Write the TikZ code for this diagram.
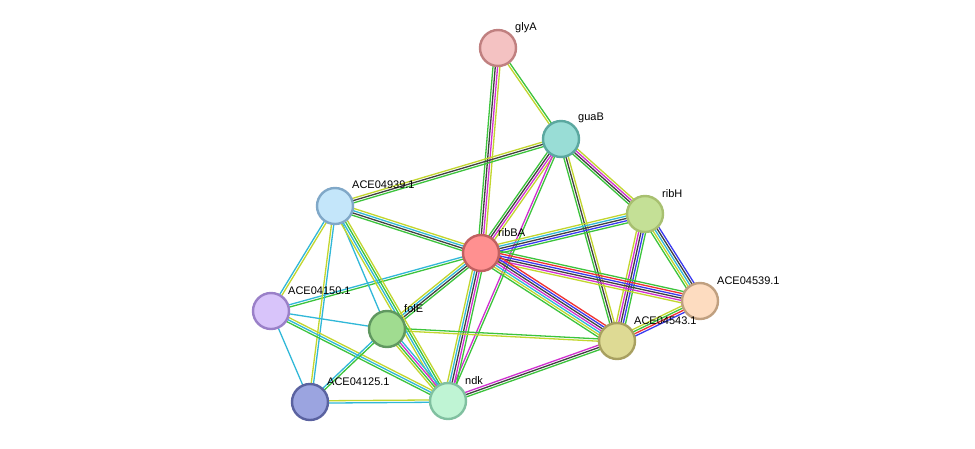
\documentclass[tikz,border=0pt]{standalone}
\usepackage{fontspec}
\setmainfont{Liberation Sans}
\usetikzlibrary{calc}
\definecolor{eg}{HTML}{3CC43C}
\definecolor{ey}{HTML}{C2D62E}
\definecolor{ek}{HTML}{404040}
\definecolor{eb}{HTML}{3A3AF0}
\definecolor{er}{HTML}{F03030}
\definecolor{em}{HTML}{D030D0}
\definecolor{ec}{HTML}{30B8D8}
\tikzset{prot/.style={circle,minimum size=36pt,inner sep=0pt,line width=2.4pt},
lab/.style={font=\fontsize{11}{13}\selectfont,anchor=south west,inner sep=1pt}}
\newcommand{\pedge}[4]{%
\foreach \c [count=\i] in {#4}{%
\pgfmathsetmacro{\off}{(\i-(#3+1)/2)*2.3}
\draw[\c,line width=1.3pt] ($(#1.center)!\off pt!90:(#2.center)$) -- ($(#2.center)!\off pt!-90:(#1.center)$);}}
\begin{document}
\begin{tikzpicture}[x=1pt,y=-1pt]
\useasboundingbox (0,0) rectangle (975,448);
\fill[white] (0,0) rectangle (975,448);
\coordinate (glyA) at (498,48);
\coordinate (guaB) at (561,139);
\coordinate (ribH) at (645,214);
\coordinate (A939) at (335,206);
\coordinate (ribBA) at (481,253);
\coordinate (A539) at (700,301);
\coordinate (A150) at (271,311);
\coordinate (folE) at (387,329);
\coordinate (A543) at (617,341);
\coordinate (A125) at (310,402);
\coordinate (ndk) at (448,401);
\pedge{glyA}{guaB}{2}{ey,eg}
\pedge{glyA}{ribBA}{4}{eg,ek,em,ey}
\pedge{guaB}{A939}{3}{ey,ek,eg}
\pedge{guaB}{ribBA}{4}{eg,ek,em,ey}
\pedge{guaB}{ribH}{4}{eg,ek,em,ey}
\pedge{guaB}{A543}{3}{eg,ek,ey}
\pedge{guaB}{ndk}{2}{em,eg}
\pedge{ribH}{ribBA}{5}{ey,ec,ek,eb,eg}
\pedge{ribH}{A539}{5}{eg,ey,ec,ek,eb}
\pedge{ribH}{A543}{5}{ey,em,ek,eb,eg}
\pedge{ribBA}{A539}{6}{ey,em,ek,eb,er,eg}
\pedge{ribBA}{A543}{7}{eg,ey,ec,em,ek,eb,er}
\pedge{ribBA}{A939}{4}{ey,ec,ek,eg}
\pedge{ribBA}{A150}{2}{ec,eg}
\pedge{ribBA}{folE}{4}{ey,ec,ek,eg}
\pedge{ribBA}{ndk}{5}{ey,ec,ek,em,eg}
\pedge{A539}{A543}{4}{ey,eg,er,eb}
\pedge{A543}{folE}{2}{eg,ey}
\pedge{A543}{ndk}{3}{em,ek,eg}
\pedge{A939}{A150}{2}{ec,ey}
\pedge{A939}{A125}{2}{ey,ec}
\pedge{A939}{folE}{1}{ec}
\pedge{A939}{ndk}{4}{ey,ec,eg,ey}
\pedge{A150}{folE}{1}{ec}
\pedge{A150}{A125}{1}{ec}
\pedge{A150}{ndk}{3}{eg,ec,ey}
\pedge{folE}{A125}{2}{ec,eg}
\pedge{folE}{ndk}{4}{ey,eg,em,ec}
\pedge{A125}{ndk}{2}{ec,ey}
\node[prot,fill={rgb,255:red,244;green,194;blue,194},draw={rgb,255:red,192;green,128;blue,128}] (nglyA) at (glyA) {};
\node[prot,fill={rgb,255:red,153;green,221;blue,214},draw={rgb,255:red,91;green,168;blue,160}] (nguaB) at (guaB) {};
\node[prot,fill={rgb,255:red,196;green,224;blue,150},draw={rgb,255:red,168;green,192;blue,112}] (nribH) at (ribH) {};
\node[prot,fill={rgb,255:red,196;green,230;blue,250},draw={rgb,255:red,128;green,168;blue,200}] (n939) at (A939) {};
\node[prot,fill={rgb,255:red,255;green,144;blue,144},draw={rgb,255:red,192;green,96;blue,96}] (nribBA) at (ribBA) {};
\node[prot,fill={rgb,255:red,253;green,220;blue,192},draw={rgb,255:red,192;green,160;blue,128}] (n539) at (A539) {};
\node[prot,fill={rgb,255:red,216;green,196;blue,250},draw={rgb,255:red,154;green,128;blue,200}] (n150) at (A150) {};
\node[prot,fill={rgb,255:red,160;green,220;blue,144},draw={rgb,255:red,96;green,152;blue,96}] (nfolE) at (folE) {};
\node[prot,fill={rgb,255:red,222;green,218;blue,148},draw={rgb,255:red,168;green,160;blue,96}] (n543) at (A543) {};
\node[prot,fill={rgb,255:red,155;green,164;blue,224},draw={rgb,255:red,90;green,98;blue,160}] (n125) at (A125) {};
\node[prot,fill={rgb,255:red,191;green,244;blue,212},draw={rgb,255:red,128;green,192;blue,160}] (nndk) at (ndk) {};
\node[lab] at (514,34) {glyA};
\node[lab] at (577,124) {guaB};
\node[lab] at (661,199) {ribH};
\node[lab] at (351,190) {ACE04939.1};
\node[lab] at (497,238) {ribBA};
\node[lab] at (716,286) {ACE04539.1};
\node[lab] at (287,296) {ACE04150.1};
\node[lab] at (403,314) {folE};
\node[lab] at (633,326) {ACE04543.1};
\node[lab] at (326,387) {ACE04125.1};
\node[lab] at (464,386) {ndk};
\end{tikzpicture}
\end{document}
